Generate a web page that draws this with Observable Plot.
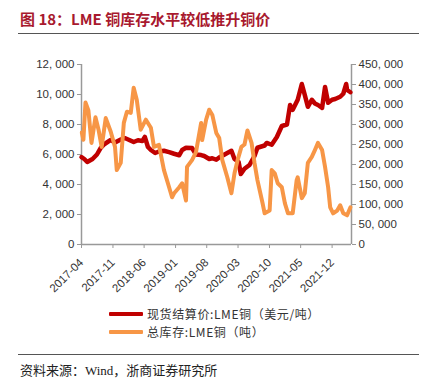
<!DOCTYPE html>
<html>
<head>
<meta charset="utf-8">
<script src="https://cdn.jsdelivr.net/npm/d3@7"></script>
<script src="https://cdn.jsdelivr.net/npm/@observablehq/plot@0.6"></script>
<style>
  body { margin: 0; background: #fff; width: 426px; height: 390px; position: relative; overflow: hidden; }
  #title { position: absolute; left: 20px; top: 8px; font: bold 15px "Noto Sans CJK SC", "Liberation Sans", sans-serif; color: #a8192e; white-space: nowrap; }
  .hr { position: absolute; left: 18px; width: 401px; height: 0; border-top: 1.5px solid #555; }
  #chart { position: absolute; left: 0; top: 0; }
  .leg { position: absolute; left: 109px; font: 12px "Noto Sans CJK SC", sans-serif; letter-spacing: 0.6px; color: #333; white-space: nowrap; display: flex; align-items: center; }
  .sw { display: inline-block; width: 34px; height: 4px; margin-right: 4px; border-radius: 1px; }
  #src { position: absolute; left: 20px; top: 360px; font: 13px "Liberation Serif", "Noto Sans CJK SC", serif; color: #222; white-space: nowrap; }
</style>
</head>
<body>
<div id="title">图 18：LME 铜库存水平较低推升铜价</div>
<div class="hr" style="top:33px"></div>
<div id="chart"></div>
<div class="leg" style="top:305px"><span class="sw" style="background:#c00000"></span>现货结算价:LME铜（美元/吨）</div>
<div class="leg" style="top:323px"><span class="sw" style="background:#f79646"></span>总库存:LME铜（吨）</div>
<div class="hr" style="top:354px"></div>
<div id="src">资料来源：Wind，浙商证券研究所</div>
<script>
// ---- data ----
const priceDates = ["2017-04-01","2017-04-20","2017-05-10","2017-06-15","2017-07-15","2017-08-09","2017-09-05","2017-10-17","2017-11-15","2017-12-24","2018-01-20","2018-02-20","2018-03-22","2018-04-20","2018-05-20","2018-06-06","2018-06-27","2018-07-17","2018-08-15","2018-09-10","2018-10-14","2018-11-18","2018-12-22","2019-01-26","2019-02-15","2019-03-13","2019-04-23","2019-05-20","2019-06-24","2019-07-15","2019-08-18","2019-09-08","2019-10-05","2019-10-25","2019-12-19","2020-01-16","2020-02-06","2020-03-05","2020-03-20","2020-04-14","2020-05-18","2020-06-21","2020-07-11","2020-08-29","2020-09-12","2020-10-16","2020-11-20","2020-12-24","2021-01-28","2021-02-18","2021-03-08","2021-04-11","2021-05-09","2021-05-29","2021-06-19","2021-07-16","2021-08-06","2021-08-27","2021-09-24","2021-10-14","2021-11-04","2021-12-01","2021-12-22","2022-01-25","2022-02-15","2022-03-07","2022-03-13","2022-04-05"];
const priceValues = [5830,5700,5500,5700,6000,6430,6700,6970,6800,7000,7100,6970,6830,6950,6900,7170,6500,6300,6100,6200,6250,6160,6050,5950,6300,6450,6430,6000,5960,5900,5700,5750,5650,5800,6100,6250,5700,5500,4700,5050,5300,5900,6450,6600,6770,6650,7170,7900,8000,9300,8980,9650,10700,9980,9180,9650,9400,9300,9110,10500,9450,9650,9700,9850,10050,10700,10300,10150];

const stockDates = ["2017-04-03","2017-04-14","2017-04-28","2017-05-18","2017-06-08","2017-07-05","2017-07-26","2017-08-16","2017-09-13","2017-10-17","2017-11-15","2017-11-27","2017-12-24","2018-01-14","2018-02-04","2018-03-02","2018-03-22","2018-04-12","2018-05-09","2018-06-13","2018-07-17","2018-08-07","2018-09-10","2018-10-14","2018-11-18","2018-12-08","2018-12-22","2019-01-26","2019-02-15","2019-03-13","2019-03-20","2019-04-23","2019-05-20","2019-06-24","2019-07-01","2019-07-28","2019-08-18","2019-09-08","2019-10-05","2019-10-25","2019-11-15","2019-12-19","2020-01-16","2020-02-06","2020-02-27","2020-03-24","2020-04-14","2020-05-04","2020-06-01","2020-06-21","2020-07-11","2020-08-15","2020-08-29","2020-10-02","2020-10-16","2020-11-06","2020-11-26","2020-12-24","2021-01-14","2021-02-04","2021-03-08","2021-04-04","2021-04-11","2021-05-09","2021-05-29","2021-06-19","2021-07-16","2021-08-06","2021-08-27","2021-09-24","2021-10-14","2021-11-04","2021-11-18","2021-12-08","2022-01-05","2022-01-25","2022-02-15","2022-03-13","2022-04-05"];
const stockValues = [280000,262000,355000,335000,254000,318000,287000,244000,316000,282000,244000,186000,204000,304000,332000,329000,392000,362000,287000,312000,292000,244000,249000,186000,143000,118000,128000,143000,153000,110000,194000,211000,231000,304000,261000,312000,337000,324000,279000,266000,211000,168000,128000,178000,211000,244000,250000,285000,254000,204000,161000,103000,78000,85000,186000,178000,153000,143000,103000,78000,78000,161000,168000,116000,128000,204000,219000,236000,254000,236000,194000,143000,93000,78000,85000,98000,78000,73000,93000];

const leftTicks = [0,2000,4000,6000,8000,10000,12000];
const rightTicks = [0,50000,100000,150000,200000,250000,300000,350000,400000,450000];
const xTickLabels = ["2017-04","2017-11","2018-06","2019-01","2019-08","2020-03","2020-10","2021-05","2021-12"];

// ---- build ----
const ratio = 450000 / 12000;
const price = priceDates.map((d,i)=>({date:new Date(d), v:priceValues[i]}));
const stock = stockDates.map((d,i)=>({date:new Date(d), v:stockValues[i]/ratio}));
const fmt = v => d3.format(",")(v).replace(/,/g, ", ");
const x0 = new Date("2017-04-01"), x1 = new Date("2022-04-12");
const axisColor = "#999";
const textColor = "#333";

const chart = Plot.plot({
  width: 426, height: 310,
  marginLeft: 81, marginRight: 75, marginTop: 64, marginBottom: 66,
  style: {fontFamily: "'Liberation Sans', Arial, sans-serif", fontSize: "11.5px", color: textColor, background: "transparent"},
  x: {type: "utc", domain: [x0, x1]},
  y: {domain: [0, 12000]},
  marks: [
    Plot.ruleY([0], {stroke: axisColor, strokeWidth: 1.5}),
    Plot.ruleX([x0], {stroke: axisColor, strokeWidth: 1.5}),
    Plot.ruleX([x1], {stroke: axisColor, strokeWidth: 1.5}),
    Plot.axisY(leftTicks, {anchor: "left", tickFormat: fmt, tickSize: 4, tickPadding: 3, stroke: axisColor, fill: textColor, label: null}),
    Plot.axisY(rightTicks.map(v => v / ratio), {anchor: "right", tickFormat: d => fmt(Math.round(d * ratio)), tickSize: 4, tickPadding: 3, stroke: axisColor, fill: textColor, label: null}),
    Plot.axisX(xTickLabels.map(s => new Date(s + "-01")), {tickFormat: d3.utcFormat("%Y-%m"), tickRotate: -45, tickSize: 4, tickPadding: 12, stroke: axisColor, fill: textColor, label: null}),
    Plot.line(price, {x: "date", y: "v", stroke: "#c00000", strokeWidth: 4.5, curve: "linear"}),
    Plot.line(stock, {x: "date", y: "v", stroke: "#f79646", strokeWidth: 4, curve: "linear"})
  ]
});
document.getElementById("chart").appendChild(chart);
</script>
</body>
</html>
